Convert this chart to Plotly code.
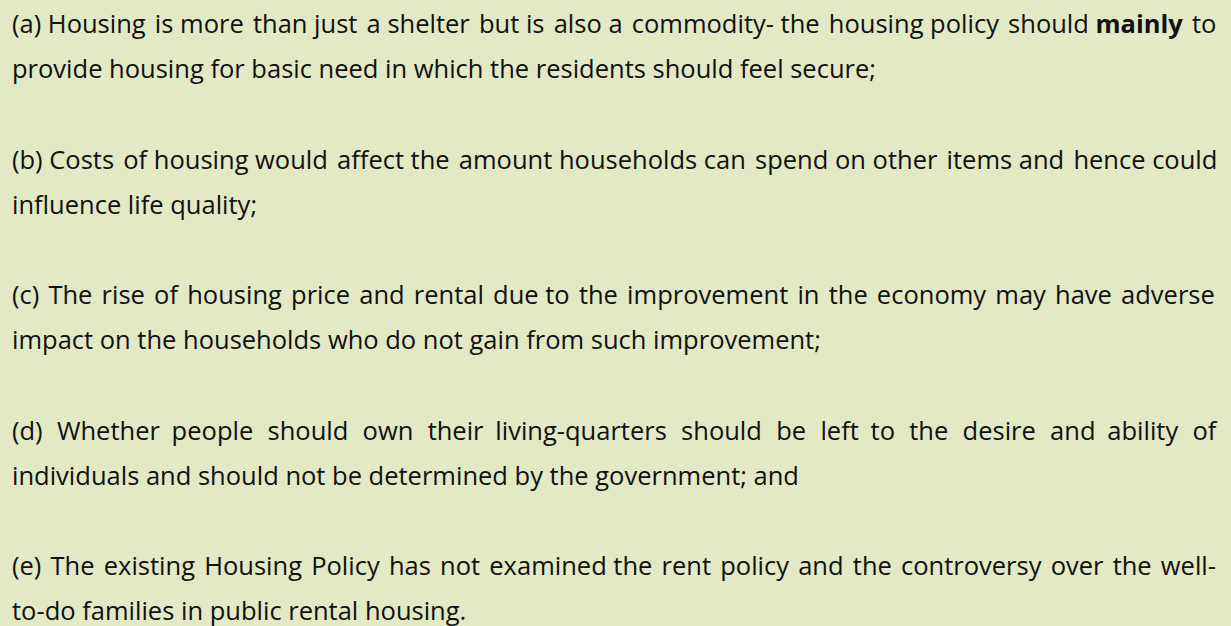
import plotly.graph_objects as go

# Text content, one list of printed lines per item
labels = ["(a)", "(b)", "(c)", "(d)", "(e)"]
item_lines = [
    ["Housing is more than just a shelter but is also a commodity- the housing policy should <b>mainly</b> to",
     "provide housing for basic need in which the residents should feel secure;"],
    ["Costs of housing would affect the amount households can spend on other items and hence could",
     "influence life quality;"],
    ["The rise of housing price and rental due to the improvement in the economy may have adverse",
     "impact on the households who do not gain from such improvement;"],
    ["Whether people should own their living-quarters should be left to the desire and ability of",
     "individuals and should not be determined by the government; and"],
    ["The existing Housing Policy has not examined the rent policy and the controversy over the well-",
     "to-do families in public rental housing."],
]

# hair spaces spread over the gaps to fake justification of each first line
justify_pad = [9, 6, 16, 41, 15]
HAIR = "\u200a"

W, H = 1231, 626
BG = "#E2E9C4"
FONT = dict(family="'Open Sans', sans-serif", size=25.5, color="#111111")

left = 10
first_base = 33
line_gap = 45
item_gap = 135.5


def justify(text, extra):
    words = text.split(" ")
    gaps = len(words) - 1
    if extra <= 0 or gaps <= 0:
        return text
    widen = [0] * gaps
    for m in range(extra):
        widen[int((m + 0.5) * gaps / extra) % gaps] += 1
    out = words[0]
    for g, w in enumerate(words[1:]):
        out += " " + HAIR * widen[g] + w
    return out


fig = go.Figure()
annotations = []
for i, (lab, lines) in enumerate(zip(labels, item_lines)):
    for j, line in enumerate(lines):
        if j == 0:
            txt = justify(f"{lab} {line}", justify_pad[i])
        else:
            txt = line
        base = first_base + i * item_gap + j * line_gap
        annotations.append(dict(
            x=left, y=base - 10, xref="x", yref="y",
            text=txt, showarrow=False, xanchor="left", yanchor="middle",
            font=FONT, align="left",
        ))

fig.update_layout(
    width=W, height=H,
    paper_bgcolor=BG, plot_bgcolor=BG,
    margin=dict(l=0, r=0, t=0, b=0),
    xaxis=dict(range=[0, W], visible=False, fixedrange=True),
    yaxis=dict(range=[H, 0], visible=False, fixedrange=True),
    annotations=annotations,
    showlegend=False,
)

fig.write_html("out.html", config={"displayModeBar": False},
               post_script="document.body.style.margin='0';")
